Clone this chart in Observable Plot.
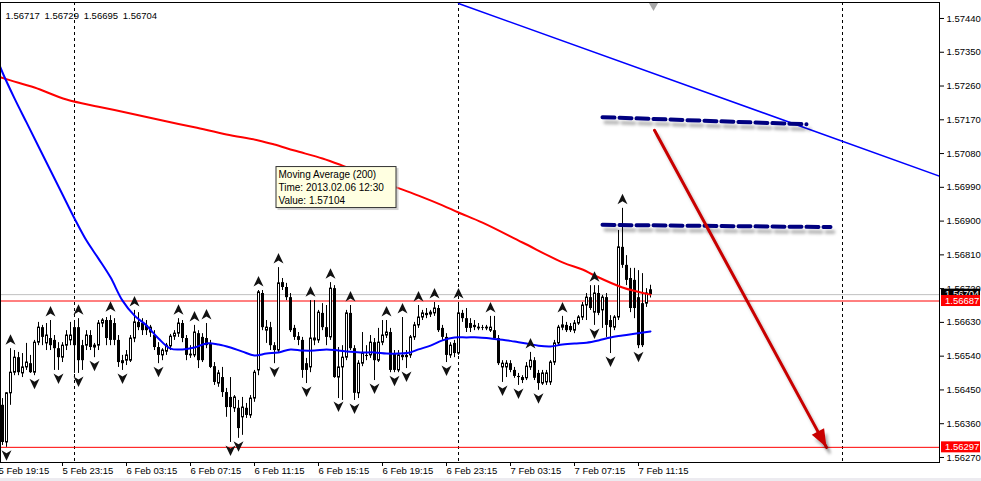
<!DOCTYPE html>
<html><head><meta charset="utf-8">
<script src="https://cdn.jsdelivr.net/npm/d3@7"></script>
<script src="https://cdn.jsdelivr.net/npm/@observablehq/plot@0.6"></script>
<style>
html,body{margin:0;padding:0;background:#fff;}
#chart{position:relative;width:981px;height:481px;overflow:hidden;background:#fff;}
</style></head><body><div id="chart"></div>
<script>
// ---- data (M15 bars, GBP quote) ----
const firstBar = "2013-02-05T19:15:00Z";
const barMinutes = 15;
const open = [1.56614,1.56409,1.56310,1.56441,1.56496,1.56536,1.56494,1.56510,1.56520,1.56496,
1.56576,1.56616,1.56574,1.56587,1.56582,1.56560,1.56536,1.56568,1.56582,1.56616,
1.56616,1.56568,1.56568,1.56595,1.56563,1.56568,1.56627,1.56635,1.56635,1.56627,
1.56582,1.56528,1.56528,1.56528,1.56587,1.56630,1.56627,1.56622,1.56603,1.56595,
1.56563,1.56542,1.56552,1.56566,1.56592,1.56600,1.56627,1.56587,1.56542,1.56542,
1.56600,1.56590,1.56587,1.56574,1.56512,1.56467,1.56483,1.56443,1.56430,1.56401,
1.56401,1.56377,1.56401,1.56382,1.56427,1.56502,1.56707,1.56608,1.56616,1.56568,
1.56555,1.56736,1.56723,1.56696,1.56614,1.56592,1.56582,1.56520,1.56510,1.56582,
1.56582,1.56654,1.56616,1.56590,1.56720,1.56483,1.56510,1.56536,1.56654,1.56560,
1.56441,1.56520,1.56542,1.56542,1.56576,1.56528,1.56576,1.56595,1.56603,1.56547,
1.56502,1.56542,1.56542,1.56542,1.56590,1.56622,1.56643,1.56654,1.56651,1.56654,
1.56667,1.56614,1.56590,1.56542,1.56574,1.56547,1.56654,1.56640,1.56627,1.56622,
1.56614,1.56616,1.56614,1.56608,1.56608,1.56587,1.56510,1.56510,1.56520,1.56502,
1.56486,1.56483,1.56481,1.56510,1.56528,1.56494,1.56467,1.56470,1.56470,1.56523,
1.56574,1.56616,1.56622,1.56619,1.56608,1.56627,1.56643,1.56675,1.56696,1.56656,
1.56707,1.56662,1.56696,1.56635,1.56616,1.56643,1.56830,1.56782,1.56747,1.56742,
1.56696,1.56680,1.56680,1.56717];
const high = [1.56622,1.56427,1.56443,1.56560,1.56555,1.56550,1.56547,1.56574,1.56542,1.56582,
1.56630,1.56622,1.56627,1.56635,1.56595,1.56576,1.56576,1.56608,1.56630,1.56630,
1.56640,1.56582,1.56608,1.56608,1.56574,1.56635,1.56640,1.56643,1.56648,1.56640,
1.56595,1.56542,1.56555,1.56595,1.56662,1.56656,1.56640,1.56635,1.56622,1.56608,
1.56576,1.56560,1.56574,1.56598,1.56608,1.56640,1.56635,1.56595,1.56568,1.56622,
1.56608,1.56600,1.56627,1.56582,1.56523,1.56502,1.56510,1.56454,1.56483,1.56435,
1.56422,1.56430,1.56414,1.56435,1.56502,1.56715,1.56715,1.56635,1.56630,1.56576,
1.56776,1.56747,1.56734,1.56707,1.56622,1.56603,1.56590,1.56534,1.56688,1.56688,
1.56662,1.56680,1.56675,1.56736,1.56728,1.56563,1.56568,1.56662,1.56675,1.56568,
1.56528,1.56603,1.56568,1.56595,1.56587,1.56614,1.56635,1.56635,1.56614,1.56555,
1.56555,1.56643,1.56555,1.56595,1.56630,1.56675,1.56662,1.56667,1.56662,1.56683,
1.56675,1.56622,1.56600,1.56576,1.56582,1.56683,1.56662,1.56667,1.56640,1.56635,
1.56627,1.56622,1.56622,1.56646,1.56646,1.56595,1.56528,1.56528,1.56528,1.56510,
1.56494,1.56488,1.56523,1.56550,1.56536,1.56502,1.56502,1.56502,1.56528,1.56582,
1.56622,1.56646,1.56630,1.56627,1.56635,1.56648,1.56683,1.56707,1.56728,1.56728,
1.56728,1.56702,1.56707,1.56648,1.56648,1.56875,1.56934,1.56808,1.56774,1.56774,
1.56768,1.56760,1.56720,1.56729];
const low = [1.56590,1.56302,1.56297,1.56409,1.56488,1.56488,1.56483,1.56502,1.56494,1.56488,
1.56568,1.56568,1.56555,1.56555,1.56502,1.56502,1.56523,1.56555,1.56568,1.56494,
1.56494,1.56502,1.56555,1.56555,1.56536,1.56555,1.56616,1.56568,1.56568,1.56568,
1.56510,1.56502,1.56515,1.56523,1.56576,1.56608,1.56595,1.56595,1.56590,1.56555,
1.56520,1.56528,1.56542,1.56555,1.56582,1.56590,1.56576,1.56528,1.56534,1.56536,
1.56507,1.56523,1.56560,1.56507,1.56462,1.56457,1.56430,1.56377,1.56310,1.56390,
1.56321,1.56329,1.56374,1.56374,1.56417,1.56488,1.56608,1.56574,1.56555,1.56520,
1.56550,1.56715,1.56688,1.56603,1.56582,1.56568,1.56481,1.56467,1.56496,1.56568,
1.56574,1.56608,1.56568,1.56582,1.56481,1.56427,1.56422,1.56528,1.56555,1.56422,
1.56427,1.56512,1.56528,1.56534,1.56475,1.56523,1.56568,1.56587,1.56496,1.56496,
1.56496,1.56528,1.56507,1.56534,1.56582,1.56614,1.56635,1.56640,1.56643,1.56646,
1.56603,1.56582,1.56523,1.56534,1.56536,1.56542,1.56630,1.56603,1.56603,1.56608,
1.56608,1.56608,1.56608,1.56603,1.56582,1.56515,1.56470,1.56483,1.56496,1.56481,
1.56462,1.56467,1.56475,1.56502,1.56475,1.56449,1.56462,1.56462,1.56462,1.56515,
1.56568,1.56608,1.56603,1.56603,1.56600,1.56622,1.56635,1.56635,1.56662,1.56622,
1.56648,1.56614,1.56590,1.56547,1.56608,1.56635,1.56774,1.56728,1.56656,1.56640,
1.56560,1.56563,1.56670,1.56695];
const close = [1.56595,1.56310,1.56441,1.56496,1.56536,1.56496,1.56510,1.56523,1.56496,1.56576,
1.56616,1.56590,1.56595,1.56568,1.56560,1.56536,1.56568,1.56595,1.56595,1.56568,
1.56528,1.56528,1.56595,1.56563,1.56568,1.56627,1.56635,1.56587,1.56582,1.56582,
1.56523,1.56520,1.56542,1.56587,1.56630,1.56616,1.56608,1.56608,1.56616,1.56563,
1.56542,1.56555,1.56568,1.56592,1.56600,1.56627,1.56587,1.56542,1.56544,1.56603,
1.56528,1.56528,1.56568,1.56510,1.56470,1.56494,1.56443,1.56403,1.56403,1.56430,
1.56347,1.56403,1.56382,1.56427,1.56496,1.56710,1.56616,1.56616,1.56568,1.56555,
1.56734,1.56723,1.56696,1.56608,1.56590,1.56582,1.56502,1.56502,1.56587,1.56587,
1.56656,1.56616,1.56590,1.56720,1.56483,1.56510,1.56536,1.56654,1.56560,1.56441,
1.56520,1.56547,1.56539,1.56576,1.56528,1.56576,1.56595,1.56603,1.56502,1.56502,
1.56542,1.56536,1.56536,1.56590,1.56622,1.56643,1.56654,1.56648,1.56656,1.56667,
1.56608,1.56590,1.56542,1.56568,1.56547,1.56654,1.56640,1.56614,1.56614,1.56616,
1.56616,1.56614,1.56616,1.56616,1.56587,1.56520,1.56520,1.56520,1.56502,1.56486,
1.56483,1.56475,1.56512,1.56528,1.56481,1.56467,1.56494,1.56494,1.56523,1.56574,
1.56616,1.56622,1.56608,1.56608,1.56627,1.56643,1.56675,1.56696,1.56667,1.56707,
1.56654,1.56696,1.56622,1.56616,1.56643,1.56830,1.56782,1.56742,1.56667,1.56667,
1.56568,1.56568,1.56707,1.56704];

// fractal bars (index into the bar list)
const fractalUpBars = [3,13,20,28,34,45,49,52,65,70,78,83,88,97,101,105,109,115,123,133,141,149,156];
const fractalDownBars = [2,9,15,20,24,31,40,58,60,69,77,85,89,94,99,102,112,126,130,135,149,153,160];

// Moving Average (200) – red
const ma200Bars = [0,3,9,17,25,33,41,49,57,65,69,74,81,86,93,99,105,111,115,121,131,141,146,149,156,163];
const ma200Values = [1.57285,1.57275,1.57256,1.57224,1.57205,1.57187,1.57168,1.57150,1.57131,1.57115,1.57104,1.57088,1.57067,1.57048,1.57019,1.56992,1.56968,1.56942,1.56923,1.56896,1.56843,1.56790,1.56771,1.56755,1.56723,1.56704];
// faster Moving Average – blue
const maFastBars = [0,1,4,7,10,13,16,19,22,25,28,31,34,37,40,43,46,49,52,55,58,61,64,67,70,73,76,79,82,85,88,91,94,97,100,103,105,108,111,114,117,120,123,126,129,132,135,138,141,144,147,150,153,156,159,163];
const maFastValues = [1.57323,1.57296,1.57227,1.57163,1.57099,1.57035,1.56971,1.56907,1.56848,1.56800,1.56750,1.56688,1.56648,1.56622,1.56587,1.56560,1.56558,1.56563,1.56574,1.56571,1.56563,1.56552,1.56542,1.56547,1.56550,1.56558,1.56555,1.56555,1.56558,1.56555,1.56552,1.56550,1.56550,1.56547,1.56547,1.56550,1.56558,1.56568,1.56582,1.56590,1.56590,1.56590,1.56587,1.56584,1.56579,1.56574,1.56568,1.56566,1.56571,1.56574,1.56576,1.56582,1.56590,1.56595,1.56600,1.56606];

// drawn objects
const trendTimes = ["2013-02-07T00:00Z","2013-02-08T06:15Z"];
const trendPrices = [1.57480, 1.57017];
const dashTimes1 = ["2013-02-07T09:00Z","2013-02-07T21:45Z"];
const dashPrices1 = [1.57177, 1.57158];
const dashTimes2 = ["2013-02-07T09:00Z","2013-02-07T23:15Z"];
const dashPrices2 = [1.56890, 1.56884];
const arrowTimes = ["2013-02-07T12:15Z","2013-02-07T23:00Z"];
const arrowPrices = [1.57142, 1.56297];

const levelPrices = [1.56687, 1.56297];
const bidPrice = 1.56704;
const headerOHLC = [1.56717, 1.56729, 1.56695, 1.56704];
const daySeparators = ["2013-02-06T00:00Z","2013-02-07T00:00Z","2013-02-08T00:00Z"];
const xTickLabels = ["5 Feb 19:15","5 Feb 23:15","6 Feb 03:15","6 Feb 07:15","6 Feb 11:15","6 Feb 15:15","6 Feb 19:15","6 Feb 23:15","7 Feb 03:15","7 Feb 07:15","7 Feb 11:15"];
const priceTicks = [1.56270,1.56360,1.56450,1.56540,1.56630,1.56720,1.56810,1.56900,1.56990,1.57080,1.57170,1.57260,1.57350,1.57440];
const tooltipTitle = "Moving Average (200)";
const tooltipTime = "2013.02.06 12:30";
const tooltipValue = 1.57104;

// ---- build ----
const MIN = 60000;
const T0 = new Date(firstBar);
const barTime = i => d3.utcMinute.offset(T0, barMinutes * i);
const candles = open.map((o, i) => ({t: barTime(i), open: o, high: high[i], low: low[i], close: close[i]}));
const maRed = ma200Bars.map((b, i) => ({t: barTime(b), v: ma200Values[i]}));
const maBlue = maFastBars.map((b, i) => ({t: barTime(b), v: maFastValues[i]}));
const pts = (ts, ps) => ts.map((t, i) => ({t: new Date(t), p: ps[i]}));
const trend = pts(trendTimes, trendPrices);
const dash1 = pts(dashTimes1, dashPrices1);
const dash2 = pts(dashTimes2, dashPrices2);
const arrow = pts(arrowTimes, arrowPrices);
const parseTick = d3.utcParse("%Y %d %b %H:%M");
const xTicks = xTickLabels.map(s => parseTick("2013 " + s));
const seps = daySeparators.map(s => new Date(s));
const upF = fractalUpBars.map(i => candles[i]);
const dnF = fractalDownBars.map(i => candles[i]);

const xScale = {type: "utc", domain: [new Date(+T0 + 7.5 * MIN), new Date(+T0 + 3528.75 * MIN)], range: [0, 939]};
const yScale = {type: "linear", domain: [1.562566, 1.574826], range: [462, 2]};

const sx0 = Plot.scale({x: xScale}), sy0 = Plot.scale({y: yScale});
const adx = sx0.apply(arrow[1].t) - sx0.apply(arrow[0].t);
const ady = sy0.apply(arrow[1].p) - sy0.apply(arrow[0].p);
const headAngle = Math.atan2(adx, -ady) * 180 / Math.PI;

const upSym = {draw(c) { c.moveTo(0, -5.5); c.lineTo(5, 5); c.lineTo(0, 2); c.lineTo(-5, 5); c.closePath(); }};
const dnSym = {draw(c) { c.moveTo(0, 5.5); c.lineTo(5, -5); c.lineTo(0, -2); c.lineTo(-5, -5); c.closePath(); }};
const headSym = {draw(c) { c.moveTo(0, 0); c.lineTo(7, 18); c.lineTo(-7, 18); c.closePath(); }};
const halfBody = 5.625 * MIN;
const FONT = "'Liberation Sans', Arial, sans-serif";

const chart = Plot.plot({
  width: 981, height: 481,
  marginLeft: 0, marginRight: 42, marginTop: 2, marginBottom: 19,
  x: {...xScale, label: null},
  y: {...yScale, label: null},
  style: {fontFamily: FONT, fontSize: "9.5px", background: "white", color: "black"},
  marks: [
    Plot.ruleY([bidPrice], {stroke: "#c0c0c0"}),
    Plot.ruleX(seps, {stroke: "black", strokeDasharray: "3,3"}),
    Plot.ruleY(levelPrices, {stroke: "#ff0000"}),
    Plot.ruleX(candles, {x: "t", y1: "low", y2: "high", stroke: "black"}),
    Plot.rect(candles.filter(d => d.close < d.open), {
      x1: d => new Date(+d.t - halfBody), x2: d => new Date(+d.t + halfBody),
      y1: "open", y2: "close", fill: "black", dx: 0.5}),
    Plot.rect(candles.filter(d => d.close >= d.open), {
      x1: d => new Date(+d.t - halfBody), x2: d => new Date(+d.t + halfBody),
      y1: "open", y2: "close", fill: "white", stroke: "black", insetLeft: 0.5, insetRight: 0.5, dx: 0.5}),
    Plot.line(maRed, {x: "t", y: "v", stroke: "#ff0000", strokeWidth: 2, curve: "catmull-rom"}),
    Plot.line(maBlue, {x: "t", y: "v", stroke: "#0000ff", strokeWidth: 2, curve: "catmull-rom"}),
    Plot.dot(upF, {x: "t", y: "high", dy: -9, symbol: upSym, fill: "#111", r: 4}),
    Plot.dot(dnF, {x: "t", y: "low", dy: 8, symbol: dnSym, fill: "#111", r: 4}),
    Plot.line(trend, {x: "t", y: "p", stroke: "#0000ff", strokeWidth: 1.5, clip: true}),
    Plot.line(dash1, {x: "t", y: "p", stroke: "#000080", strokeWidth: 4, strokeDasharray: "12,5"}),
    Plot.line(dash2, {x: "t", y: "p", stroke: "#000080", strokeWidth: 4, strokeDasharray: "12,5"}),
    Plot.line(arrow, {x: "t", y: "p", stroke: "#c80000", strokeWidth: 3}),
    Plot.dot([arrow[1]], {x: "t", y: "p", symbol: headSym, fill: "#c80000", r: 5, rotate: headAngle}),
    Plot.dot([candles[candles.length - 1]], {x: "t", frameAnchor: "top", dx: 3, dy: 3, symbol: "triangle", rotate: 180, r: 3.5, fill: "#a8a8a8"}),
    Plot.text([headerOHLC.map(v => v.toFixed(5)).join("\u2002")], {frameAnchor: "top-left", dx: 5, dy: 10, textAnchor: "start", fontSize: 9.5}),
    Plot.frame({stroke: "black"}),
    Plot.axisX(xTicks, {anchor: "bottom", tickSize: 4, tickPadding: 1, tickFormat: d3.utcFormat("%-d %b %H:%M"), textAnchor: "start", fontSize: 9.5, label: null}),
    Plot.axisY(priceTicks, {anchor: "right", tickSize: 4, tickPadding: 3, tickFormat: d => d.toFixed(5), fontSize: 9.5, label: null})
  ]
});
document.getElementById("chart").appendChild(chart);

// ---- overlays using the plot's scales ----
const svg = d3.select(chart);
const sx = chart.scale("x"), sy = chart.scale("y");
const defs = svg.insert("defs", ":first-child");
const f = defs.append("filter").attr("id", "sh").attr("filterUnits", "userSpaceOnUse")
  .attr("x", 0).attr("y", 0).attr("width", 981).attr("height", 481);
f.append("feDropShadow").attr("dx", 3).attr("dy", 5).attr("stdDeviation", 1.6)
  .attr("flood-color", "#000").attr("flood-opacity", 0.28);
svg.selectAll('g[stroke="#000080"], g[stroke="#c80000"], g[fill="#c80000"]').attr("filter", "url(#sh)");

// price label boxes on the axis
function priceBox(v, bg) {
  const y = sy.apply(v);
  const g = svg.append("g").attr("text-anchor", "start");
  g.append("rect").attr("x", 941).attr("y", y - 5.5).attr("width", 39).attr("height", 11).attr("fill", bg);
  g.append("text").attr("x", 945).attr("y", y).attr("dy", "0.34em").attr("fill", "white")
    .attr("text-anchor", "start").attr("font-family", FONT).attr("font-size", 9.5).text(v.toFixed(5));
}
priceBox(bidPrice, "black");
levelPrices.forEach(v => priceBox(v, "#ff0000"));

// tooltip
const tt = d3.utcParse("%Y.%m.%d %H:%M")(tooltipTime);
const tx = sx.apply(tt) + 1.5, ty = sy.apply(tooltipValue) + 22;
const tg = svg.append("g").attr("font-family", FONT).attr("font-size", 10).attr("text-anchor", "start");
tg.append("rect").attr("x", tx + 2).attr("y", ty + 2).attr("width", 121).attr("height", 42).attr("fill", "#b8b8b8").attr("opacity", 0.6);
tg.append("rect").attr("x", tx + 0.5).attr("y", ty + 0.5).attr("width", 120).attr("height", 41).attr("fill", "#ffffe1").attr("stroke", "#333");
[tooltipTitle, "Time: " + tooltipTime, "Value: " + tooltipValue.toFixed(5)].forEach((s, i) => {
  tg.append("text").attr("x", tx + 3).attr("y", ty + 12 + i * 13).attr("text-anchor", "start").text(s);
});

// window strip below
svg.append("rect").attr("x", 0).attr("y", 478).attr("width", 981).attr("height", 3).attr("fill", "#ecebf0");
</script></body></html>
